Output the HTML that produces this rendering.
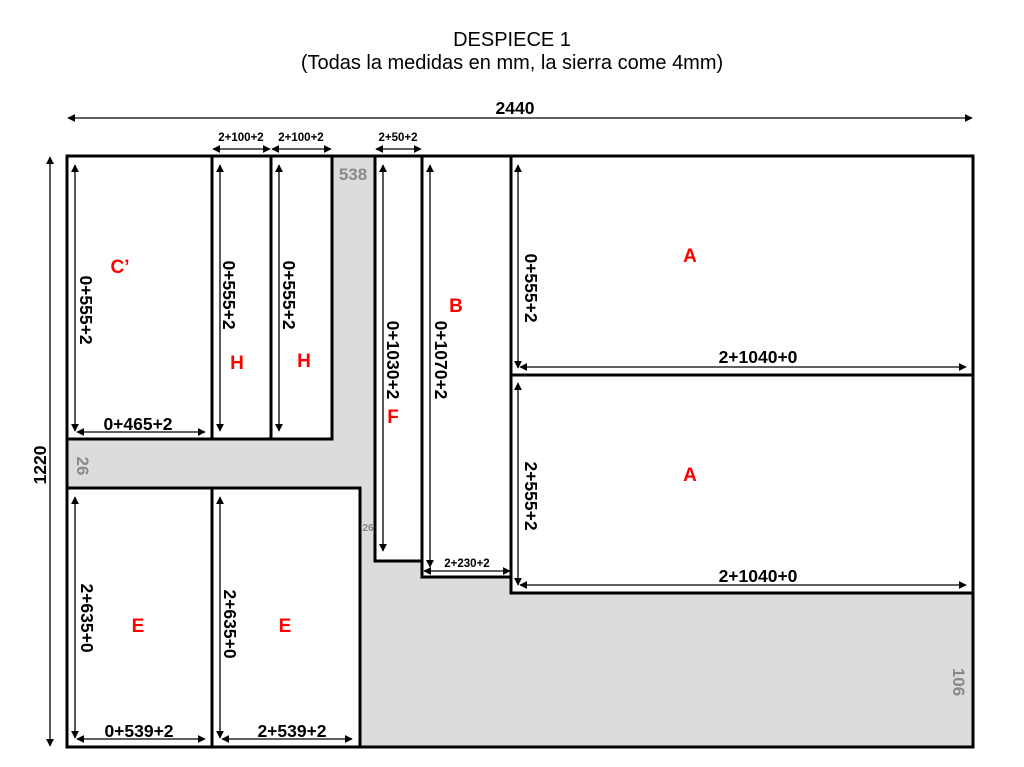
<!DOCTYPE html>
<html><head><meta charset="utf-8"><style>
body{margin:0;background:#fff;}
svg{display:block}
text{font-family:"Liberation Sans",Arial,sans-serif;}
.d{font-weight:bold;font-size:17.5px;fill:#000;text-anchor:middle}
.s{font-weight:bold;font-size:11.5px;fill:#000;text-anchor:middle}
.r{font-weight:bold;font-size:19px;fill:#f00;text-anchor:middle}
.g{font-weight:bold;font-size:17px;fill:#888;text-anchor:middle}
.p{fill:#fff;stroke:#000;stroke-width:3}
.a{stroke:#000;stroke-width:1.3;fill:none;marker-start:url(#m);marker-end:url(#m)}
</style></head><body>
<svg width="1024" height="767" viewBox="0 0 1024 767">
<defs><marker id="m" viewBox="0 0 10 10" refX="9" refY="5" markerWidth="8" markerHeight="8" orient="auto-start-reverse" markerUnits="userSpaceOnUse"><path d="M0,0 L10,5 L0,10z" fill="#000"/></marker></defs>
<text x="512" y="46" text-anchor="middle" font-size="20">DESPIECE 1</text>
<text x="512" y="69" text-anchor="middle" font-size="20">(Todas la medidas en mm, la sierra come 4mm)</text>
<line class="a" x1="68" y1="118" x2="972" y2="118"/>
<text class="d" x="515" y="114">2440</text>
<line class="a" x1="50" y1="157" x2="50" y2="746"/>
<text class="d" transform="translate(46,465) rotate(-90)">1220</text>
<rect x="67" y="156" width="906" height="591" fill="#dcdcdc" stroke="#000" stroke-width="3"/>
<rect class="p" x="67" y="156" width="145" height="283"/>
<rect class="p" x="212" y="156" width="59" height="283"/>
<rect class="p" x="271" y="156" width="61" height="283"/>
<rect class="p" x="375" y="156" width="47" height="405"/>
<rect class="p" x="422" y="156" width="89" height="421"/>
<rect class="p" x="511" y="156" width="462" height="219"/>
<rect class="p" x="511" y="375" width="462" height="218"/>
<rect class="p" x="67" y="488" width="145" height="259"/>
<rect class="p" x="212" y="488" width="148" height="259"/>
<line class="a" x1="213" y1="149" x2="270" y2="149"/><text class="s" x="241" y="141">2+100+2</text>
<line class="a" x1="272" y1="149" x2="331" y2="149"/><text class="s" x="301" y="141">2+100+2</text>
<line class="a" x1="376" y1="149" x2="421" y2="149"/><text class="s" x="398" y="141">2+50+2</text>
<line class="a" x1="75" y1="165" x2="75" y2="431"/>
<line class="a" x1="77" y1="432" x2="205" y2="432"/>
<text class="d" x="138" y="430">0+465+2</text>
<text class="d" transform="translate(80,310) rotate(90)">0+555+2</text>
<text class="r" x="120" y="273">C’</text>
<line class="a" x1="220" y1="165" x2="220" y2="431"/>
<text class="d" transform="translate(223,295) rotate(90)">0+555+2</text>
<text class="r" x="237" y="369">H</text>
<line class="a" x1="279" y1="165" x2="279" y2="431"/>
<text class="d" transform="translate(283,295) rotate(90)">0+555+2</text>
<text class="r" x="304" y="367">H</text>
<line class="a" x1="383" y1="165" x2="383" y2="551"/>
<text class="d" transform="translate(387,360) rotate(90)">0+1030+2</text>
<text class="r" x="393" y="423">F</text>
<line class="a" x1="430" y1="165" x2="430" y2="567"/>
<line class="a" x1="424" y1="571" x2="510" y2="571"/>
<text class="s" x="467" y="567">2+230+2</text>
<text class="d" transform="translate(435,360) rotate(90)">0+1070+2</text>
<text class="r" x="456" y="312">B</text>
<line class="a" x1="518" y1="165" x2="518" y2="368"/>
<line class="a" x1="520" y1="367" x2="966" y2="367"/>
<text class="d" x="758" y="363">2+1040+0</text>
<text class="d" transform="translate(525,288) rotate(90)">0+555+2</text>
<text class="r" x="690" y="262">A</text>
<line class="a" x1="518" y1="383" x2="518" y2="585"/>
<line class="a" x1="520" y1="585" x2="966" y2="585"/>
<text class="d" x="758" y="582">2+1040+0</text>
<text class="d" transform="translate(525,496) rotate(90)">2+555+2</text>
<text class="r" x="690" y="481">A</text>
<line class="a" x1="75" y1="497" x2="75" y2="738"/>
<line class="a" x1="77" y1="739" x2="205" y2="739"/>
<text class="d" x="139" y="737">0+539+2</text>
<text class="d" transform="translate(81,618) rotate(90)">2+635+0</text>
<text class="r" x="138" y="632">E</text>
<line class="a" x1="220" y1="497" x2="220" y2="738"/>
<line class="a" x1="222" y1="739" x2="352" y2="739"/>
<text class="d" x="292" y="737">2+539+2</text>
<text class="d" transform="translate(224,624) rotate(90)">2+635+0</text>
<text class="r" x="285" y="632">E</text>
<text class="g" x="353" y="180">538</text>
<text class="g" transform="translate(77,466) rotate(90)">26</text>
<text x="368" y="531" font-size="10" font-weight="bold" fill="#888" text-anchor="middle">26</text>
<text class="g" transform="translate(953,682) rotate(90)">106</text>
</svg>
</body></html>
